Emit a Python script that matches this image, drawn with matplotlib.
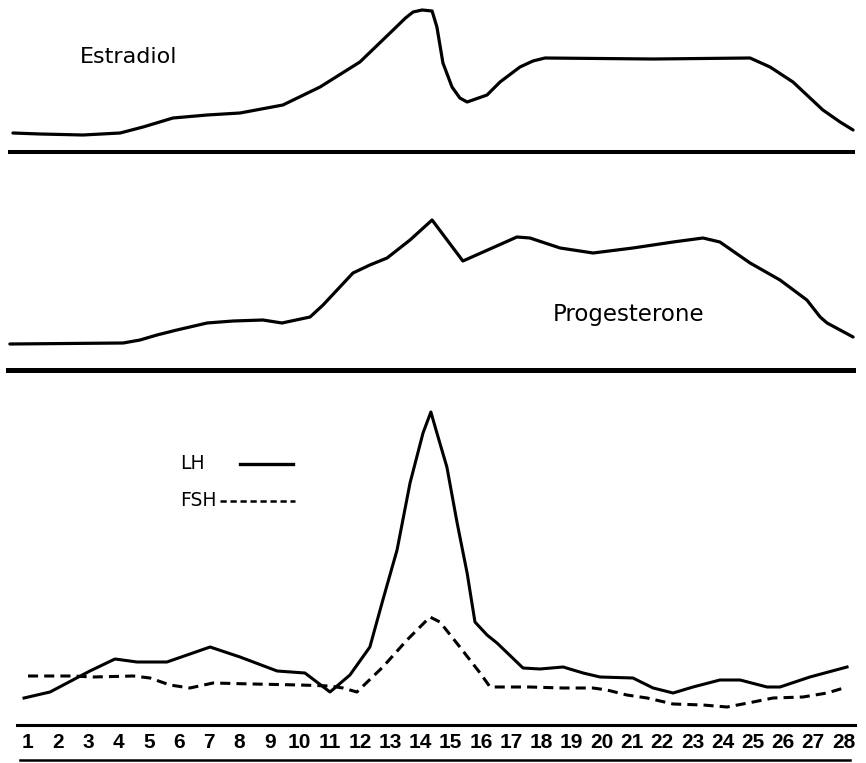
import matplotlib
matplotlib.use("Agg")
import matplotlib.pyplot as plt

# day of cycle
days = list(range(1, 29))
day_labels = [str(d) for d in days]

# hormone levels (relative units, baseline = 0)
estradiol_day = [0.50, 1.40, 2.82, 4.05, 4.81, 5.80, 6.93, 8.02, 9.44, 10.67,
                 11.99, 13.09, 13.50, 13.75, 14.05, 14.38, 14.54, 14.74, 15.04, 15.30,
                 15.54, 16.20, 16.63, 17.29, 17.72, 18.12, 21.70, 24.91, 25.57, 26.33,
                 27.32, 27.89, 28.32]
estradiol = [19, 18, 17, 19, 25, 34, 37, 39, 47, 65,
             90, 122, 134, 140, 142, 141, 125, 89, 65, 54,
             50, 57, 70, 85, 91, 94, 93, 94, 85, 70,
             42, 30, 22]

progesterone_day = [0.40, 4.15, 4.71, 5.27, 5.93, 6.93, 7.79, 8.78, 9.41, 10.34,
                    10.77, 11.76, 12.32, 12.89, 13.65, 14.38, 15.40, 17.19, 17.62,
                    18.62, 19.71, 21.03, 22.36, 23.35, 23.91, 24.91, 25.90, 26.79,
                    27.23, 27.46, 27.89, 28.32]
progesterone = [26, 27, 30, 35, 40, 47, 49, 50, 47, 53,
                65, 97, 105, 112, 130, 150, 109, 133, 132,
                122, 117, 122, 128, 132, 128, 107, 90, 70,
                53, 47, 40, 33]

lh_day = [0.87, 1.73, 3.05, 3.88, 4.61, 5.60, 7.03, 8.02, 9.25, 10.17,
          11.00, 11.66, 12.32, 12.75, 13.22, 13.65, 14.08, 14.34, 14.54, 14.87,
          15.21, 15.54, 15.80, 16.20, 16.53, 17.39, 17.95, 18.72, 19.38, 19.94,
          21.03, 21.70, 22.36, 23.02, 23.91, 24.58, 25.47, 25.90, 26.89, 28.12]
lh = [27, 33, 54, 66, 63, 63, 78, 68, 54, 52,
      33, 50, 78, 125, 175, 242, 292, 313, 292, 258,
      202, 152, 103, 90, 82, 57, 56, 58, 52, 48,
      47, 37, 32, 38, 45, 45, 38, 38, 48, 58]

fsh_day = [1.00, 2.49, 3.15, 4.48, 5.04, 5.70, 6.36, 7.13, 8.45, 10.01,
           11.00, 11.43, 11.89, 12.75, 13.55, 14.31, 14.64, 15.30, 15.97, 16.30,
           17.62, 18.72, 19.71, 20.17, 20.83, 21.50, 22.36, 23.35, 24.15, 25.01,
           25.67, 26.66, 27.46, 28.12]
fsh = [49, 49, 48, 49, 47, 40, 37, 42, 41, 40,
       39, 37, 33, 58, 85, 108, 103, 78, 52, 38,
       38, 37, 37, 35, 30, 27, 21, 20, 18, 23,
       27, 28, 32, 38]

W, H = 866, 763
fig = plt.figure(figsize=(W / 100, H / 100), dpi=100)
fig.patch.set_facecolor("white")

XMIN, XMAX = 0.073, 28.748
FSH_DASH = (0, (3.3, 2.0))


def panel(top, bottom, bounds, lw):
    ax = fig.add_axes([0, 1 - bottom / H, 1, (bottom - top) / H])
    ax.set_xlim(XMIN, XMAX)
    ax.set_ylim(0, bottom - top)
    for s in ("top", "left", "right"):
        ax.spines[s].set_visible(False)
    ax.spines["bottom"].set_linewidth(lw)
    ax.spines["bottom"].set_bounds(*bounds)
    ax.set_yticks([])
    ax.set_xticks([])
    ax.patch.set_alpha(0)
    return ax


ax1 = panel(0, 152, (0.40, 28.32), 2.9)
ax2 = panel(152, 370, (0.34, 28.32), 3.6)
ax3 = panel(370, 725, (0.64, 28.38), 2.2)

ax1.plot(estradiol_day, estradiol, color="black", lw=2.3,
         solid_joinstyle="round", solid_capstyle="round")
ax1.text(2.72, 95, "Estradiol", fontsize=16, va="center", ha="left")

ax2.plot(progesterone_day, progesterone, color="black", lw=2.3,
         solid_joinstyle="round", solid_capstyle="round")
ax2.text(18.38, 55, "Progesterone", fontsize=16.5, va="center", ha="left")

ax3.plot(lh_day, lh, color="black", lw=2.2, solid_joinstyle="round")
ax3.plot(fsh_day, fsh, color="black", lw=2.2, linestyle=FSH_DASH)

# hand-drawn style key: label first, then a sample of the line
ax3.text(6.03, 261, "LH", fontsize=13.5, va="center", ha="left")
ax3.plot([8.02, 9.77], [261, 261], color="black", lw=2.4)
ax3.text(6.03, 224, "FSH", fontsize=13.5, va="center", ha="left")
ax3.plot([7.35, 9.84], [224, 224], color="black", lw=1.8, linestyle=(0, (2.5, 1.5)))

ax3.set_xticks(days)
ax3.set_xticklabels(day_labels, family=["Liberation Sans", "DejaVu Sans"],
                    fontsize=15, fontweight="bold")
ax3.tick_params(axis="x", length=0, pad=6)
ax3.plot([0.74, 28.22], [-35 / 355, -35 / 355], color="black", lw=1.8,
         transform=ax3.get_xaxis_transform(), clip_on=False)

fig.savefig("out.png", dpi=100, facecolor="white")
